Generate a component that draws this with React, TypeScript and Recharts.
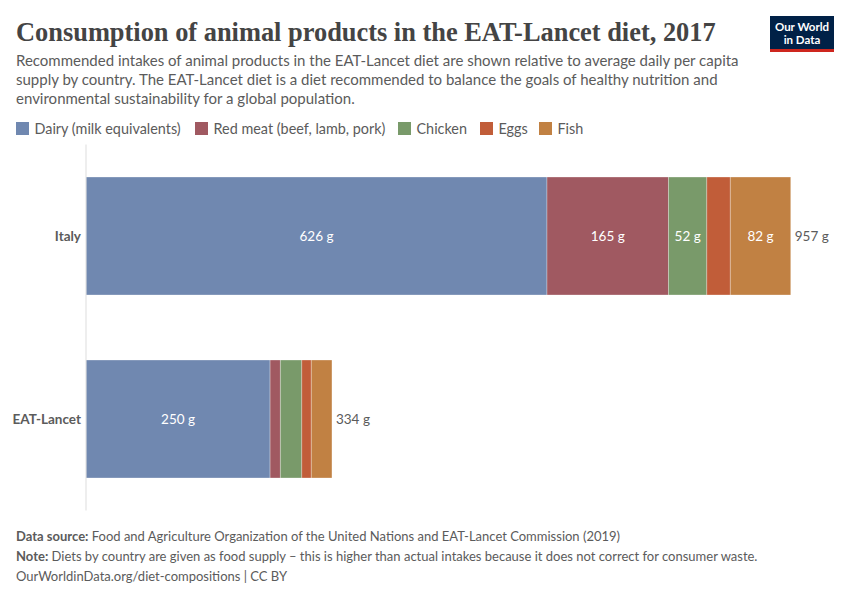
import { Bar, BarChart, LabelList, Legend, XAxis, YAxis } from 'recharts';

const countries = ['Italy', 'EAT-Lancet'];
const dairy = [626, 250];
const redMeat = [165, 14];
const chicken = [52, 29];
const eggs = [32, 13];
const fish = [82, 28];
const totals = [957, 334];

const seriesNames = ['Dairy (milk equivalents)', 'Red meat (beef, lamb, pork)', 'Chicken', 'Eggs', 'Fish'];
const seriesColors = ['#4c6a9c', '#883039', '#578145', '#b13507', '#b16214'];

const data = countries.map((country, i) => ({
  country,
  dairy: dairy[i],
  redMeat: redMeat[i],
  chicken: chicken[i],
  eggs: eggs[i],
  fish: fish[i],
  total: totals[i],
}));

const seriesKeys = ['dairy', 'redMeat', 'chicken', 'eggs', 'fish'];

const font = 'Lato, sans-serif';
const textGrey = '#5b5b5b';

// segments narrower than this don't get a label
const minLabelled = 40;
const segmentLabel = (v: any) => (v >= minLabelled ? `${v} g` : '');

// x of each legend swatch
const legendLeft = [16, 195, 398, 480, 539];

function LegendRow() {
  return (
    <div style={{ fontFamily: font, fontSize: 14.4, color: textGrey, position: 'absolute', left: 0, top: 120 }}>
      {seriesNames.map((name, i) => (
        <div key={name} style={{ position: 'absolute', left: legendLeft[i], top: 0, display: 'flex', alignItems: 'center', gap: 5.5, height: 17, whiteSpace: 'nowrap' }}>
          <span style={{ width: 13, height: 13, background: seriesColors[i], opacity: 0.8, display: 'inline-block' }} />
          {name}
        </div>
      ))}
    </div>
  );
}

export default function App() {
  return (
    <div style={{ position: 'absolute', left: 0, top: 0, width: 850, height: 600, background: '#fff', fontFamily: font, overflow: 'hidden' }}>
      <div style={{ position: 'absolute', left: 16, top: 15, fontFamily: '"Liberation Serif", serif', fontWeight: 700, fontSize: 26.4, lineHeight: '34px', color: '#444', whiteSpace: 'nowrap' }}>
        Consumption of animal products in the EAT-Lancet diet, 2017
      </div>

      {/* logo */}
      <div style={{ position: 'absolute', left: 770, top: 16, width: 64, height: 36, background: '#002147', borderBottom: '3px solid #ce261e', boxSizing: 'border-box', color: '#fff', fontWeight: 700, fontSize: 11.5, lineHeight: '13px', textAlign: 'center', paddingTop: 4 }}>
        Our World<br />in Data
      </div>

      <div style={{ position: 'absolute', left: 16, top: 51, fontSize: 15, lineHeight: '19px', color: textGrey, whiteSpace: 'nowrap' }}>
        Recommended intakes of animal products in the EAT-Lancet diet are shown relative to average daily per capita<br />
        supply by country. The EAT-Lancet diet is a diet recommended to balance the goals of healthy nutrition and<br />
        environmental sustainability for a global population.
      </div>

      <div style={{ position: 'absolute', left: 0, top: 0 }}>
        <BarChart
          layout="vertical"
          width={850}
          height={600}
          data={data}
          barCategoryGap={32.5}
          margin={{ top: 144.5, right: 27.6, bottom: 89.5, left: 0 }}
        >
          <XAxis type="number" hide domain={[0, 1000]} />
          <YAxis
            type="category"
            dataKey="country"
            width={86}
            tickLine={false}
            tickSize={0}
            tickMargin={5}
            axisLine={{ stroke: '#dddddd', strokeWidth: 1 }}
            tick={{ fontFamily: font, fontSize: 13.5, fontWeight: 700, fill: textGrey }}
          />
          <Legend
            content={() => <LegendRow />}
            wrapperStyle={{ left: 0, top: 0, width: 850, height: 0 }}
          />
          {seriesKeys.map((key, i) => (
            <Bar
              key={key}
              dataKey={key}
              name={seriesNames[i]}
              stackId="diet"
              fill={seriesColors[i]}
              fillOpacity={0.8}
              stroke="#ffffff"
              strokeOpacity={0.6}
              strokeWidth={0.5}
              isAnimationActive={false}
            >
              <LabelList
                dataKey={key}
                position="center"
                formatter={segmentLabel}
                style={{ fontFamily: font, fontSize: 13.5, fill: '#ffffff' }}
              />
              {key === 'fish' && (
                <LabelList
                  dataKey="total"
                  position="right"
                  offset={4}
                  formatter={(v: any) => `${v} g`}
                  style={{ fontFamily: font, fontSize: 13.5, fill: textGrey }}
                />
              )}
            </Bar>
          ))}
        </BarChart>
      </div>

      <div style={{ position: 'absolute', left: 16, top: 526, fontSize: 13, lineHeight: '20px', color: textGrey, whiteSpace: 'nowrap' }}>
        <b>Data source:</b> Food and Agriculture Organization of the United Nations and EAT-Lancet Commission (2019)<br />
        <b>Note:</b> Diets by country are given as food supply – this is higher than actual intakes because it does not correct for consumer waste.<br />
        OurWorldinData.org/diet-compositions | CC BY
      </div>
    </div>
  );
}
